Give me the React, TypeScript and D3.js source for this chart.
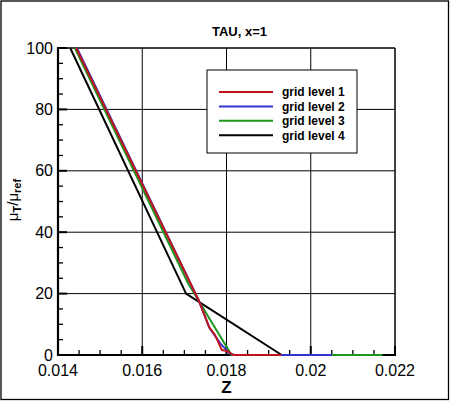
import * as d3 from "d3";

// ── Data ─────────────────────────────────────────────────────────────────────

const grid1: [number, number][] = [
  [0.01443, 100], [0.01735, 17.5], [0.01759, 9], [0.01773, 6.5],
  [0.01789, 1.6], [0.01803, 1.2], [0.01816, 0], [0.0193, 0],
];
const grid2: [number, number][] = [
  [0.01445, 100], [0.01735, 17.5], [0.01759, 9], [0.01785, 3.8],
  [0.01808, 0.5], [0.01818, 0], [0.0205, 0],
];
const grid3: [number, number][] = [
  [0.0144, 100], [0.01709, 23.3], [0.01812, 0], [0.0217, 0],
];
const grid4: [number, number][] = [
  [0.01429, 100], [0.01704, 20], [0.01931, 0],
];

const seriesNames = ["grid level 1", "grid level 2", "grid level 3", "grid level 4"];
const seriesColors = ["#c0141c", "#3434d0", "#1c961c", "#000000"];
const seriesData = [grid1, grid2, grid3, grid4];

const xMajor = [0.014, 0.016, 0.018, 0.02, 0.022];
const xLabels = ["0.014", "0.016", "0.018", "0.02", "0.022"];
const yMajor = [0, 20, 40, 60, 80, 100];

const W = 450;
const H = 401;
const PLOT = { left: 58, right: 395, top: 48, bottom: 355 };
const FONT = "'Liberation Sans', Arial, sans-serif";

export default function App() {
  const x = d3.scaleLinear().domain([0.014, 0.022]).range([PLOT.left, PLOT.right]);
  const y = d3.scaleLinear().domain([0, 100]).range([PLOT.bottom, PLOT.top]);

  const line = d3
    .line<[number, number]>()
    .x((d) => x(d[0]))
    .y((d) => y(d[1]));

  const xMinor = d3.range(0, 17).map((i) => 0.014 + i * 0.0005).filter((_, i) => i % 4 !== 0);
  const yMinor = d3.range(0, 21).map((i) => i * 5).filter((v) => v % 20 !== 0);

  const legend = { x: 207, y: 70, w: 150, h: 83 };

  return (
    <svg
      width={W}
      height={H}
      style={{ position: "absolute", left: 0, top: 0, background: "white" }}
      fontFamily={FONT}
    >
      <rect x={0} y={0} width={W} height={H} fill="white" />
      {/* picture frame */}
      <rect x={1} y={1} width={447.5} height={398.5} fill="none" stroke="#000" strokeWidth={1.3} />

      {/* grid */}
      {xMajor.slice(1).map((v) => (
        <line key={`gx${v}`} x1={x(v)} x2={x(v)} y1={PLOT.top} y2={PLOT.bottom} stroke="#000" strokeWidth={1} />
      ))}
      {yMajor.slice(1).map((v) => (
        <line key={`gy${v}`} x1={PLOT.left} x2={PLOT.right} y1={y(v)} y2={y(v)} stroke="#000" strokeWidth={1} />
      ))}

      {/* minor ticks (inward) */}
      {xMinor.map((v) => (
        <line key={`mx${v}`} x1={x(v)} x2={x(v)} y1={PLOT.bottom} y2={PLOT.bottom - 5} stroke="#000" strokeWidth={1.3} />
      ))}
      {yMinor.map((v) => (
        <line key={`my${v}`} x1={PLOT.left} x2={PLOT.left + 5} y1={y(v)} y2={y(v)} stroke="#000" strokeWidth={1.3} />
      ))}
      {/* major ticks */}
      {xMajor.map((v) => (
        <line key={`Mx${v}`} x1={x(v)} x2={x(v)} y1={PLOT.bottom} y2={PLOT.bottom - 9} stroke="#000" strokeWidth={2} />
      ))}
      {yMajor.map((v) => (
        <line key={`My${v}`} x1={PLOT.left} x2={PLOT.left + 9} y1={y(v)} y2={y(v)} stroke="#000" strokeWidth={2} />
      ))}

      {/* frame: thin top/right, thick left/bottom */}
      <line x1={PLOT.left} x2={PLOT.right} y1={PLOT.top} y2={PLOT.top} stroke="#000" strokeWidth={1} />
      <line x1={PLOT.right} x2={PLOT.right} y1={PLOT.top} y2={PLOT.bottom} stroke="#000" strokeWidth={1} />
      <line x1={PLOT.left} x2={PLOT.left} y1={PLOT.top - 1} y2={PLOT.bottom + 1} stroke="#000" strokeWidth={2.2} />
      <line x1={PLOT.left - 1} x2={PLOT.right + 1} y1={PLOT.bottom} y2={PLOT.bottom} stroke="#000" strokeWidth={2.2} />

      {/* legend box (covers grid) */}
      <rect x={legend.x} y={legend.y} width={legend.w} height={legend.h} fill="white" stroke="#000" strokeWidth={1} />

      {/* data: drawn in reverse so level 1 sits on top */}
      {seriesData
        .map((d, i) => ({ d, i }))
        .reverse()
        .map(({ d, i }) => (
          <path key={seriesNames[i]} d={line(d) ?? ""} fill="none" stroke={seriesColors[i]} strokeWidth={2} strokeLinejoin="round" />
        ))}

      {/* tick labels */}
      {xMajor.map((v, i) => (
        <text key={`lx${v}`} x={x(v)} y={376} textAnchor="middle" fontSize={16} fill="#000">
          {xLabels[i]}
        </text>
      ))}
      {yMajor.map((v) => (
        <text key={`ly${v}`} x={53} y={y(v) + 5.5} textAnchor="end" fontSize={16} fill="#000">
          {v}
        </text>
      ))}

      {/* legend entries */}
      {seriesNames.map((name, i) => {
        const ly = 92 + i * 14.4;
        return (
          <g key={name}>
            <line x1={219} x2={273} y1={ly} y2={ly} stroke={seriesColors[i]} strokeWidth={2} />
            <text x={282} y={ly + 4.3} fontSize={12} fontWeight="bold" fill="#000">
              {name}
            </text>
          </g>
        );
      })}

      {/* title & axis labels */}
      <text x={239.5} y={36} textAnchor="middle" fontSize={13} fontWeight="bold" fill="#000">
        TAU, x=1
      </text>
      <text x={226.5} y={393} textAnchor="middle" fontSize={17} fontWeight="bold" fill="#000">
        Z
      </text>
      <text transform="translate(18,200) rotate(-90)" textAnchor="middle" fontSize={15} fill="#000">
        <tspan>μ</tspan>
        <tspan fontSize={11} fontWeight="bold" dy={3}>T</tspan>
        <tspan dy={-3}>/μ</tspan>
        <tspan fontSize={11} fontWeight="bold" dy={3}>ref</tspan>
      </text>
    </svg>
  );
}
